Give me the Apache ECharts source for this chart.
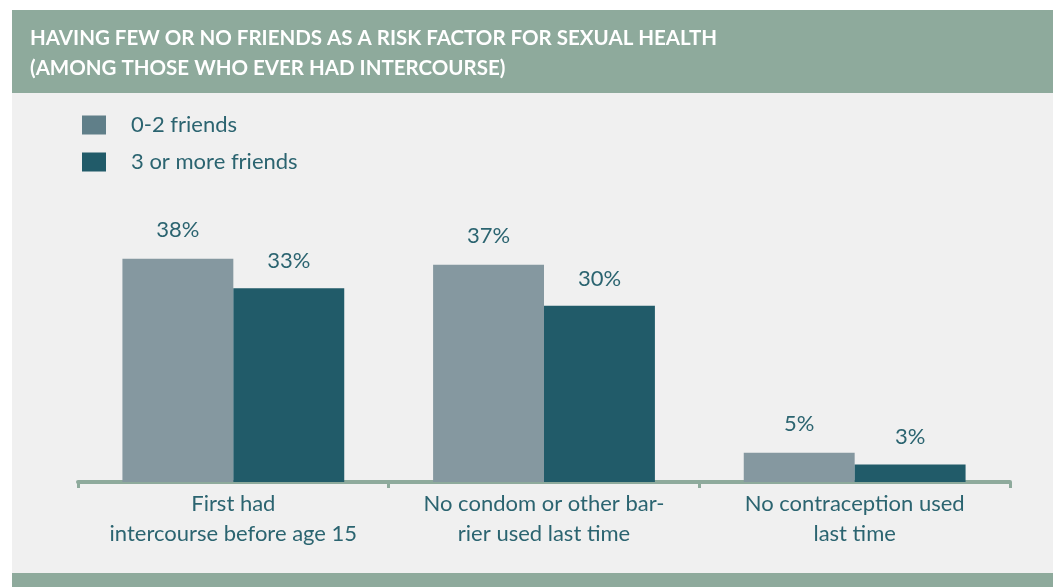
<!DOCTYPE html>
<html>
<head>
<meta charset="utf-8">
<script src="https://cdn.jsdelivr.net/npm/echarts@6/dist/echarts.min.js"></script>
<style>html,body{margin:0;padding:0;background:#fff}#c{width:1053px;height:587px}</style>
</head>
<body>
<div id="c"></div>
<script>
const categories = ['First had\nintercourse before age 15', 'No condom or other bar-\nrier used last time', 'No contraception used\nlast time'];
const seriesNames = ['0-2 friends', '3 or more friends'];
const fewFriends = [38, 37, 5];
const moreFriends = [33, 30, 3];

const TEXT = '#2b6470';
const GREEN = '#8eaa9c';
const FONT = 'Lato';

const chart = echarts.init(document.getElementById('c'), null, {renderer: 'canvas'});
chart.setOption({
  backgroundColor: '#ffffff',
  animation: false,
  graphic: [
    {type: 'rect', z: -100, shape: {x: 12, y: 10, width: 1041, height: 577}, style: {fill: '#f0f0f0'}},
    {type: 'rect', z: -99, shape: {x: 12, y: 10, width: 1041, height: 83}, style: {fill: GREEN}},
    {type: 'rect', z: -99, shape: {x: 12, y: 573, width: 1041, height: 14}, style: {fill: GREEN}}
  ],
  title: {
    text: 'HAVING FEW OR NO FRIENDS AS A RISK FACTOR FOR SEXUAL HEALTH\n(AMONG THOSE WHO EVER HAD INTERCOURSE)',
    left: 30, top: 23, padding: 0,
    textStyle: {color: '#ffffff', fontFamily: FONT, fontWeight: 'bold', fontSize: 20.5, lineHeight: 30}
  },
  legend: {
    orient: 'vertical', left: 82, top: 114, padding: 0,
    itemWidth: 24, itemHeight: 19, itemGap: 15, icon: 'rect',
    data: [
      {name: seriesNames[0], itemStyle: {color: '#607f89'}},
      {name: seriesNames[1], itemStyle: {color: '#215b69'}}
    ],
    textStyle: {color: TEXT, fontFamily: FONT, fontSize: 22, padding: [0, 0, 0, 20]}
  },
  grid: {left: 78, right: 43, top: 247, bottom: 105, containLabel: false},
  xAxis: {
    type: 'category', data: categories,
    axisLine: {lineStyle: {color: GREEN, width: 4}},
    axisTick: {show: true, length: 6, lineStyle: {color: GREEN, width: 3}},
    axisLabel: {color: TEXT, fontFamily: FONT, fontSize: 22, lineHeight: 30, margin: 7, interval: 0}
  },
  yAxis: {type: 'value', min: 0, max: 40, show: false, splitLine: {show: false}},
  series: [
    {name: seriesNames[0], type: 'bar', data: fewFriends, barGap: '0%', barCategoryGap: '28.6%',
      itemStyle: {color: '#8598a0'},
      label: {show: true, position: 'top', distance: 18, formatter: '{c}%', color: TEXT, fontFamily: FONT, fontSize: 22}},
    {name: seriesNames[1], type: 'bar', data: moreFriends, barGap: '0%', barCategoryGap: '28.6%',
      itemStyle: {color: '#215b69'},
      label: {show: true, position: 'top', distance: 16, formatter: '{c}%', color: TEXT, fontFamily: FONT, fontSize: 22}}
  ]
});
</script>
</body>
</html>
